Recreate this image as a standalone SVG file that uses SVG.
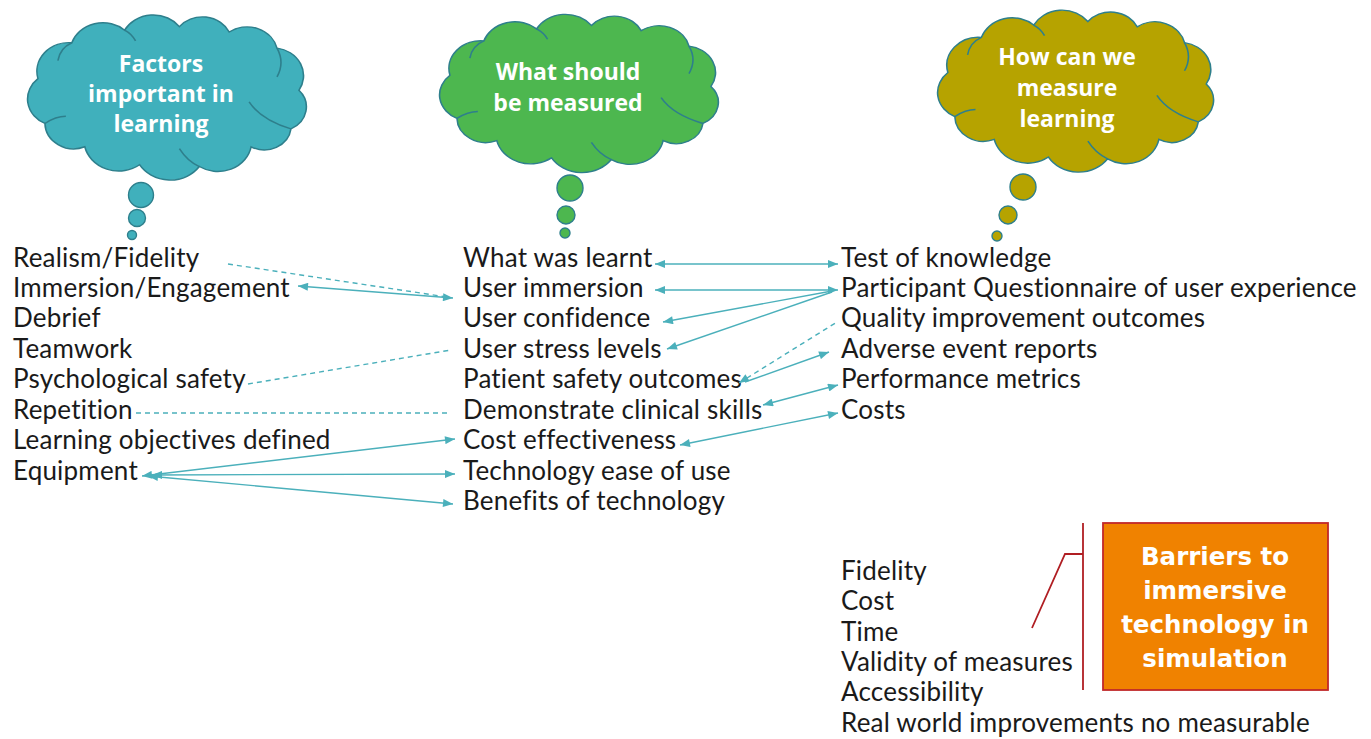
<svg xmlns="http://www.w3.org/2000/svg" width="1371" height="739" viewBox="0 0 1371 739">
  <style>
    .item { font-family: Lato, "Noto Sans", "Liberation Sans", sans-serif; font-size: 26px; letter-spacing: 0.2px; fill: #1a1a1a; }
    .head { font-family: "Open Sans", Lato, "Liberation Sans", sans-serif; font-weight: 700; font-size: 23px; fill: #ffffff; text-anchor: middle; }
    .box-head { font-family: "DejaVu Sans", "Liberation Sans", sans-serif; font-size: 24.5px; }
    .cloud-body { stroke: #2e7f8c; stroke-width: 1.6; vector-effect: non-scaling-stroke; }
    .cloud-crease { fill: none; stroke: #2e7f8c; stroke-width: 1.6; vector-effect: non-scaling-stroke; }
    .bubble { stroke: #2e7f8c; stroke-width: 1.4; }
    .link { fill: none; stroke: #4bb0bb; stroke-width: 1.4; }
    .dash { stroke-dasharray: 5 4; }
    .bracket { fill: none; stroke: #b01e23; stroke-width: 1.8; }
  </style>
  <defs>
    <marker id="arrow" viewBox="0 0 10 8" refX="10" refY="4" markerWidth="11" markerHeight="8" markerUnits="userSpaceOnUse" orient="auto-start-reverse">
      <path d="M0,0 L10,4 L0,8 z" fill="#4bb0bb"/>
    </marker>
    <!-- cloud outline in a local frame of about 280 x 184 -->
    <path id="cloudShape" d="M8,62 A32,32 0 0 1 42,22 A33,33 0 0 1 95,8 A33,33 0 0 1 150,4 A30,30 0 0 1 200,10 A31,31 0 0 1 248,28 A31,31 0 0 1 270,75 A27,27 0 0 1 262,118 A27,27 0 0 1 222,138 A34,34 0 0 1 170,160 A36,36 0 0 1 110,158 A35,35 0 0 1 55,138 A29,29 0 0 1 15,112 A30,30 0 0 1 8,62 Z"/>
    <path id="cloudCreases" d="M42,22 Q30,28 28,42 M248,28 Q256,44 248,60 M262,118 Q232,108 220,88 M170,160 Q158,154 150,140 M15,112 Q26,104 36,104 M95,8 Q102,12 106,20"/>
  </defs>

  <!-- thought clouds -->
  <g id="cloud-factors">
    <g transform="translate(30,23) scale(0.996,0.897)">
      <use href="#cloudShape" class="cloud-body" fill="#40b0bc"/>
      <use href="#cloudCreases" class="cloud-crease"/>
    </g>
    <circle class="bubble" cx="141" cy="195" r="12.5" fill="#40b0bc"/>
    <circle class="bubble" cx="137" cy="218" r="8.5" fill="#40b0bc"/>
    <circle class="bubble" cx="132" cy="235" r="4.5" fill="#40b0bc"/>
    <text class="head" x="161" y="72">Factors</text>
    <text class="head" x="161" y="102">important in</text>
    <text class="head" x="161" y="132">learning</text>
  </g>

  <g id="cloud-what">
    <g transform="translate(442,22) scale(0.996,0.86)">
      <use href="#cloudShape" class="cloud-body" fill="#4db74f"/>
      <use href="#cloudCreases" class="cloud-crease"/>
    </g>
    <circle class="bubble" cx="570" cy="188" r="13" fill="#4db74f"/>
    <circle class="bubble" cx="566" cy="215" r="9" fill="#4db74f"/>
    <circle class="bubble" cx="565" cy="233" r="5" fill="#4db74f"/>
    <text class="head" x="568" y="80">What should</text>
    <text class="head" x="568" y="111">be measured</text>
  </g>

  <g id="cloud-how">
    <g transform="translate(940,18) scale(0.986,0.88)">
      <use href="#cloudShape" class="cloud-body" fill="#b6a300"/>
      <use href="#cloudCreases" class="cloud-crease"/>
    </g>
    <circle class="bubble" cx="1023" cy="187" r="13" fill="#b6a300"/>
    <circle class="bubble" cx="1008" cy="215" r="9" fill="#b6a300"/>
    <circle class="bubble" cx="997" cy="236" r="5" fill="#b6a300"/>
    <text class="head" x="1067" y="65">How can we</text>
    <text class="head" x="1067" y="96">measure</text>
    <text class="head" x="1067" y="127">learning</text>
  </g>

  <!-- factor list -->
  <g id="factors-list">
    <text class="item" x="13" y="267">Realism/Fidelity</text>
    <text class="item" x="13" y="297">Immersion/Engagement</text>
    <text class="item" x="13" y="327">Debrief</text>
    <text class="item" x="13" y="358">Teamwork</text>
    <text class="item" x="13" y="388">Psychological safety</text>
    <text class="item" x="13" y="419">Repetition</text>
    <text class="item" x="13" y="449">Learning objectives defined</text>
    <text class="item" x="13" y="480">Equipment</text>
  </g>

  <!-- measures list -->
  <g id="measures-list">
    <text class="item" x="463" y="267">What was learnt</text>
    <text class="item" x="463" y="297">User immersion</text>
    <text class="item" x="463" y="327">User confidence</text>
    <text class="item" x="463" y="358">User stress levels</text>
    <text class="item" x="463" y="388">Patient safety outcomes</text>
    <text class="item" x="463" y="419">Demonstrate clinical skills</text>
    <text class="item" x="463" y="449">Cost effectiveness</text>
    <text class="item" x="463" y="480">Technology ease of use</text>
    <text class="item" x="463" y="510">Benefits of technology</text>
  </g>

  <!-- methods list -->
  <g id="methods-list">
    <text class="item" x="841" y="267">Test of knowledge</text>
    <text class="item" x="841" y="297">Participant Questionnaire of user experience</text>
    <text class="item" x="841" y="327">Quality improvement outcomes</text>
    <text class="item" x="841" y="358">Adverse event reports</text>
    <text class="item" x="841" y="388">Performance metrics</text>
    <text class="item" x="841" y="419">Costs</text>
  </g>

  <!-- barriers list -->
  <g id="barriers-list">
    <text class="item" x="841" y="580">Fidelity</text>
    <text class="item" x="841" y="610">Cost</text>
    <text class="item" x="841" y="641">Time</text>
    <text class="item" x="841" y="671">Validity of measures</text>
    <text class="item" x="841" y="701">Accessibility</text>
    <text class="item" x="841" y="732">Real world improvements no measurable</text>
  </g>

  <!-- barriers box -->
  <g id="barriers-box">
    <rect x="1103" y="523" width="225" height="167" fill="#f08200" stroke="#c0282a" stroke-width="1.8"/>
    <text class="head box-head" x="1215" y="565">Barriers to</text>
    <text class="head box-head" x="1215" y="599">immersive</text>
    <text class="head box-head" x="1215" y="633">technology in</text>
    <text class="head box-head" x="1215" y="667">simulation</text>
  </g>

  <!-- connectors -->
  <g id="connectors">
    <!-- factors to measures -->
    <line class="link dash" x1="228" y1="264" x2="447" y2="297"/>
    <line class="link" x1="298" y1="286" x2="453" y2="298" marker-start="url(#arrow)" marker-end="url(#arrow)"/>
    <line class="link dash" x1="248" y1="384" x2="451" y2="350"/>
    <line class="link dash" x1="136" y1="413" x2="450" y2="413"/>
    <line class="link" x1="142" y1="476" x2="455" y2="439" marker-start="url(#arrow)" marker-end="url(#arrow)"/>
    <line class="link" x1="152" y1="475" x2="455" y2="474" marker-start="url(#arrow)" marker-end="url(#arrow)"/>
    <line class="link" x1="148" y1="476" x2="453" y2="504" marker-start="url(#arrow)" marker-end="url(#arrow)"/>

    <!-- measures to methods -->
    <line class="link" x1="655" y1="264" x2="838" y2="264" marker-start="url(#arrow)" marker-end="url(#arrow)"/>
    <line class="link" x1="655" y1="290" x2="838" y2="290" marker-start="url(#arrow)" marker-end="url(#arrow)"/>
    <line class="link" x1="663" y1="322" x2="832" y2="291" marker-start="url(#arrow)"/>
    <line class="link" x1="667" y1="349" x2="832" y2="292" marker-start="url(#arrow)"/>
    <line class="link dash" x1="739" y1="383" x2="837" y2="322" marker-start="url(#arrow)"/>
    <line class="link" x1="745" y1="382" x2="829" y2="352" marker-end="url(#arrow)"/>
    <line class="link" x1="763" y1="405" x2="838" y2="385" marker-start="url(#arrow)" marker-end="url(#arrow)"/>
    <line class="link" x1="680" y1="445" x2="838" y2="413" marker-start="url(#arrow)" marker-end="url(#arrow)"/>

    <!-- bracket joining barriers list to box -->
    <polyline class="bracket" points="1032,628 1065,554 1083,554"/>
    <line class="bracket" x1="1083" y1="523" x2="1083" y2="690"/>
  </g>
</svg>
